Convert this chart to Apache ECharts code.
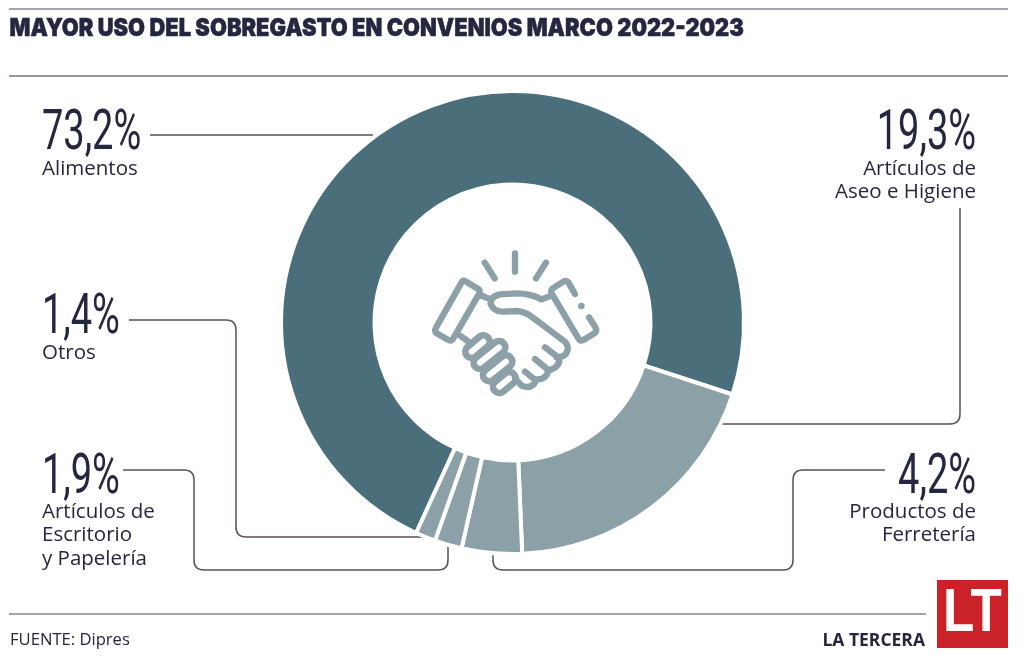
<!DOCTYPE html>
<html><head><meta charset="utf-8">
<style>html,body{margin:0;padding:0;background:#fff}#c{width:1024px;height:665px}</style>
<script src="https://cdn.jsdelivr.net/npm/echarts@6/dist/echarts.min.js"></script>
</head><body><div id="c"></div>
<script>
const titleText = "MAYOR USO DEL SOBREGASTO EN CONVENIOS MARCO 2022-2023";
const sourceText = "FUENTE: Dipres";
const brandText = "LA TERCERA";
const categories = ["Alimentos", "Artículos de\nAseo e Higiene", "Productos de\nFerretería", "Artículos de\nEscritorio\ny Papelería", "Otros"];
const values = [73.2, 19.3, 4.2, 1.9, 1.4];
const sliceColors = ["#4a6e7a", "#8ca1a7", "#8ca1a7", "#8ca1a7", "#8ca1a7"];

const ink = "#25263f", leader = "#5c5059", iconC = "#8ca1a7";
const chart = echarts.init(document.getElementById("c"), null, {renderer: "canvas"});

echarts.graphic.registerShape("leaders", echarts.graphic.extendPath(
  "M150 135L373 135" +
  "M722 424L950 424Q960 424 960 414L960 208" +
  "M129 320L226 320Q236 320 236 330L236 527Q236 537 246 537L425 537" +
  "M123 470L184 470Q194 470 194 480L194 560Q194 570 204 570L438 570Q448 570 448 560L448 546" +
  "M493 553L493 560Q493 570 503 570L783 570Q793 570 793 560L793 480Q793 470 803 470L885 470", {}));
echarts.graphic.registerShape("shake", echarts.graphic.extendPath(
  "M345 70L345 125M254 98L284 145M438 98L408 145" +
  "M195 153L235 177Q242 183 238 190L160 325Q155 335 145 330L110 310Q102 303 108 293L183 160Q188 150 195 153Z" +
  "M525 192L505 157Q498 150 490 155L458 175Q450 182 456 192L535 325Q540 335 550 330L583 310Q592 303 587 293L567 262" +
  "M240 195L272 208M458 195L425 208Q390 190 350 190L300 193Q270 200 272 222Q280 245 310 245L350 243Q375 245 395 260L495 335Q505 345 503 360Q498 382 470 382" +
  "M435 352L478 385Q480 410 450 420M405 387L445 420Q440 448 412 448M375 425L408 452Q395 480 365 467L345 445" +
  "M182 318L205 335", {}));

const pctPos = [
  {x: 42, y: 135, a: "left"}, {x: 976, y: 135, a: "right"}, {x: 976, y: 479, a: "right"},
  {x: 42, y: 479, a: "left"}, {x: 42, y: 319, a: "left"}];
const labPos = [{y: 168}, {y: 168}, {y: 511}, {y: 511}, {y: 352}];

const fmt = v => v.toFixed(1).replace(".", ",") + "%";
const pctEls = values.map((v, i) => ({
  type: "text", x: pctPos[i].x, y: pctPos[i].y, scaleX: 0.69,
  style: {text: fmt(v), font: "400 55px Roboto", fill: ink, textAlign: pctPos[i].a, textVerticalAlign: "middle"}
}));
const labEls = categories.map((c, i) => ({
  type: "text", x: pctPos[i].x, y: labPos[i].y - 11,
  style: {text: c, font: "20.5px 'Open Sans'", lineHeight: 23.5, fill: ink, textAlign: pctPos[i].a, textVerticalAlign: "top"}
}));
const hl = (x1, x2, y, c) => ({type: "line", shape: {x1, y1: y, x2, y2: y}, style: {stroke: c, lineWidth: 1.5}});
const fist = [[215,365,250,335],[240,398,297,352],[268,435,318,395],[298,470,328,445]];
const seg = (p, c, w) => ({type: "line", shape: {x1: p[0], y1: p[1], x2: p[2], y2: p[3]}, style: {stroke: c, lineWidth: w, lineCap: "round"}});

chart.setOption({
  animation: false,
  backgroundColor: "#fff",
  series: [{
    type: "pie", silent: true, center: [512.5, 322.5], radius: [138, 231.5],
    startAngle: 245.4, clockwise: true, label: {show: false}, labelLine: {show: false},
    itemStyle: {borderColor: "#fff", borderWidth: 4},
    data: values.map((v, i) => ({name: categories[i], value: v, itemStyle: {color: sliceColors[i]}}))
  }],
  graphic: [
    hl(9, 1008, 9, "#85859a"), hl(9, 1008, 76, "#7d6e70"), hl(9, 926, 614, "#85859a"),
    {type: "text", x: 9.5, y: 29, scaleX: 0.886, style: {text: titleText, font: "900 24.7px Inter", fill: ink, stroke: ink, lineWidth: 0.5, textVerticalAlign: "middle"}},
    {type: "leaders", x: 0, y: 0, style: {fill: "none", stroke: leader, lineWidth: 1.5}},
    ...pctEls, ...labEls,
    {type: "group", x: 400, y: 230, scaleX: 1/3, scaleY: 1/3, children: [
      ...fist.map(p => seg(p, iconC, 58)),
      ...fist.map(p => seg(p, "#fff", 18)),
      {type: "shake", x: 0, y: 0, style: {fill: "none", stroke: iconC, lineWidth: 19, lineCap: "round", lineJoin: "round"}},
      {type: "circle", shape: {cx: 544, cy: 228, r: 10}, style: {fill: iconC}}
    ]},
    {type: "text", x: 10, y: 640.5, style: {text: sourceText, font: "16.6px 'Open Sans'", fill: ink, textVerticalAlign: "middle"}},
    {type: "text", x: 925, y: 641, style: {text: brandText, font: "700 17.5px 'Open Sans'", fill: ink, textAlign: "right", textVerticalAlign: "middle"}},
    {type: "rect", shape: {x: 937, y: 580, width: 71, height: 68}, style: {fill: "#cb2229"}},
    {type: "text", x: 972.5, y: 614.5, scaleX: 0.84, style: {text: "LT", font: "700 61px 'Liberation Sans'", fill: "#fff", textAlign: "center", textVerticalAlign: "middle"}}
  ]
});
</script></body></html>
